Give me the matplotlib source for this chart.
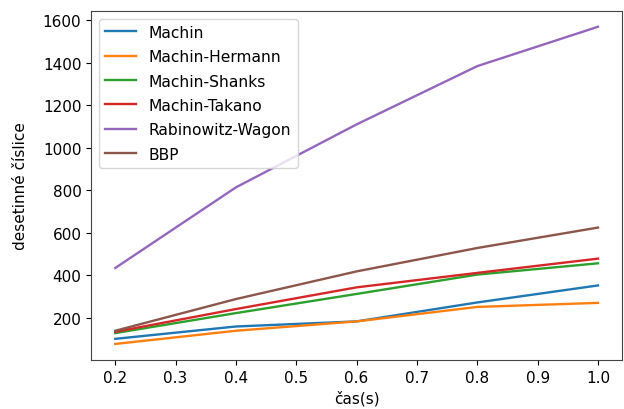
import matplotlib
matplotlib.use("Agg")
import matplotlib.pyplot as plt

time_s = [0.2, 0.4, 0.6, 0.8, 1.0]
machin = [102, 160, 184, 273, 353]
machin_hermann = [78, 140, 184, 252, 271]
machin_shanks = [129, 223, 313, 404, 457]
machin_takano = [135, 242, 344, 412, 479]
rabinowitz_wagon = [435, 814, 1110, 1384, 1569]
bbp = [140, 289, 419, 529, 625]

series = [
    ("Machin", machin),
    ("Machin-Hermann", machin_hermann),
    ("Machin-Shanks", machin_shanks),
    ("Machin-Takano", machin_takano),
    ("Rabinowitz-Wagon", rabinowitz_wagon),
    ("BBP", bbp),
]

plt.rcParams["font.size"] = 11.2
fig = plt.figure(figsize=(6.24, 4.10), dpi=100)
ax = fig.add_axes([0.146, 0.12, 0.851, 0.851])
for name, vals in series:
    ax.plot(time_s, vals, label=name, linewidth=1.7)
for s in ax.spines.values():
    s.set_color("#444444")
ax.tick_params(labelsize=11)
ax.set_xlabel("čas(s)", fontsize=11)
ax.set_ylabel("desetinné číslice", fontsize=11)
ax.yaxis.set_label_coords(-0.118, 0.5)
ax.legend(loc="upper left", labelspacing=0.6)
fig.savefig("out.png", dpi=100)
